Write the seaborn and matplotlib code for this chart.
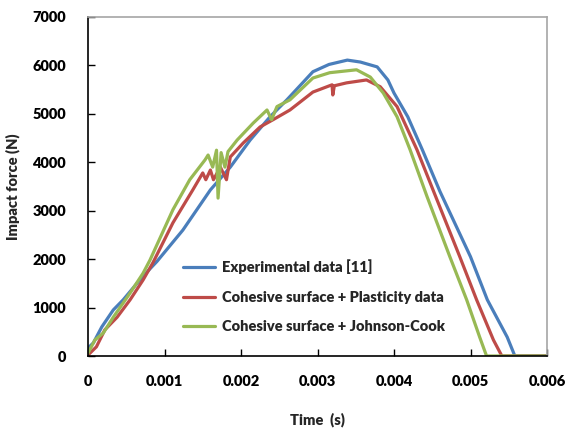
import matplotlib
matplotlib.use("Agg")
import matplotlib.pyplot as plt
import seaborn as sns
import pandas as pd

# ---- data ----
exp_t = [0, 0.00007, 0.00018, 0.00033, 0.00046, 0.00064, 0.00081, 0.0009, 0.00124, 0.0016,
         0.00186, 0.00212, 0.00238, 0.0026, 0.00294, 0.00315, 0.00339, 0.00356, 0.00378,
         0.00392, 0.004, 0.00418, 0.00437, 0.0046, 0.005, 0.00522, 0.00548, 0.00558, 0.006]
exp_f = [165, 270, 600, 950, 1160, 1500, 1800, 1950, 2600, 3430,
         3900, 4460, 4940, 5290, 5870, 6020, 6110, 6070, 5970,
         5700, 5430, 4940, 4260, 3400, 2050, 1160, 390, 0, 0]

pl_t = [0, 0.00011, 0.00022, 0.00038, 0.00055, 0.00072, 0.00085, 0.00111, 0.00137, 0.0015,
        0.00154, 0.0016, 0.00164, 0.00173, 0.00181, 0.00186, 0.00203, 0.00225, 0.00242,
        0.00264, 0.00294, 0.00319, 0.0032, 0.00322, 0.00338, 0.00364, 0.00382, 0.00404,
        0.0043, 0.00451, 0.00486, 0.00508, 0.0053, 0.00541, 0.006]
pl_f = [20, 190, 540, 800, 1160, 1570, 1930, 2750, 3430, 3780,
        3640, 3840, 3640, 3900, 3640, 4110, 4400, 4730, 4880,
        5080, 5450, 5600, 5390, 5580, 5640, 5700, 5560, 5150,
        4260, 3430, 2050, 1160, 330, 0, 0]

jc_t = [0, 0.00009, 0.0002, 0.00033, 0.00055, 0.00072, 0.00081, 0.00111, 0.00133, 0.00153,
        0.00157, 0.00163, 0.00168, 0.0017, 0.00174, 0.00179, 0.00183, 0.00195, 0.00216,
        0.00234, 0.0024, 0.00247, 0.00264, 0.00294, 0.00316, 0.00351, 0.00369, 0.00386,
        0.00404, 0.00421, 0.00443, 0.00473, 0.00495, 0.00512, 0.00521, 0.006]
jc_f = [60, 330, 475, 800, 1300, 1710, 1980, 3020, 3640, 4050,
        4150, 3900, 4250, 3260, 4200, 3900, 4220, 4460, 4810,
        5080, 4880, 5150, 5290, 5740, 5850, 5910, 5760, 5430,
        4940, 4260, 3300, 2050, 1160, 390, 0, 0]

labels = ["Experimental data [11]",
          "Cohesive surface + Plasticity data",
          "Cohesive surface + Johnson-Cook"]
colors = ["#4a7ebb", "#be4b48", "#98b954"]

x_ticks = [0, 0.001, 0.002, 0.003, 0.004, 0.005, 0.006]
x_tick_labels = ["0", "0.001", "0.002", "0.003", "0.004", "0.005", "0.006"]
y_ticks = [0, 1000, 2000, 3000, 4000, 5000, 6000, 7000]

sns.set_style("white")
plt.rcParams["font.family"] = ["Lato", "DejaVu Sans"]
plt.rcParams["font.weight"] = "heavy"

fig = plt.figure(figsize=(5.69, 4.28), dpi=100)
ax = fig.add_axes([88 / 569, 1 - 356 / 428, (547 - 88) / 569, (356 - 17) / 428])

for t, f, lab, c in zip([exp_t, pl_t, jc_t], [exp_f, pl_f, jc_f], labels, colors):
    df = pd.DataFrame({"t": t, "f": f})
    sns.lineplot(data=df, x="t", y="f", sort=False, estimator=None, color=c,
                 linewidth=2.3, label=lab, ax=ax)

ax.set_xlim(0, 0.006)
ax.set_ylim(0, 7000)
ax.set_xticks(x_ticks)
ax.set_xticklabels(x_tick_labels)
ax.set_yticks(y_ticks)
ax.tick_params(axis="both", which="both", direction="in", length=5, width=1,
               labelsize=10.5, colors="black", top=False, right=False,
               left=True, bottom=True)
ax.tick_params(axis="x", pad=14)
ax.tick_params(axis="y", pad=16)
for lab in ax.get_xticklabels() + ax.get_yticklabels():
    lab.set_fontweight("heavy")

for s in ["left", "bottom"]:
    ax.spines[s].set_color("black")
    ax.spines[s].set_linewidth(1.2)
for s in ["top", "right"]:
    ax.spines[s].set_color("#a6a6a6")
    ax.spines[s].set_linewidth(1.2)

ax.set_xlabel("Time  (s)", fontsize=10.5, fontweight="heavy", labelpad=17)
ax.set_ylabel("Impact force (N)", fontsize=10.5, fontweight="heavy", labelpad=9)

leg = ax.legend(loc="lower left", bbox_to_anchor=(0.178, 0.028), frameon=False,
                handlelength=2.2, handletextpad=0.5, labelspacing=1.15,
                prop={"weight": "heavy", "size": 10.5})

fig.savefig("out.png", dpi=100)
